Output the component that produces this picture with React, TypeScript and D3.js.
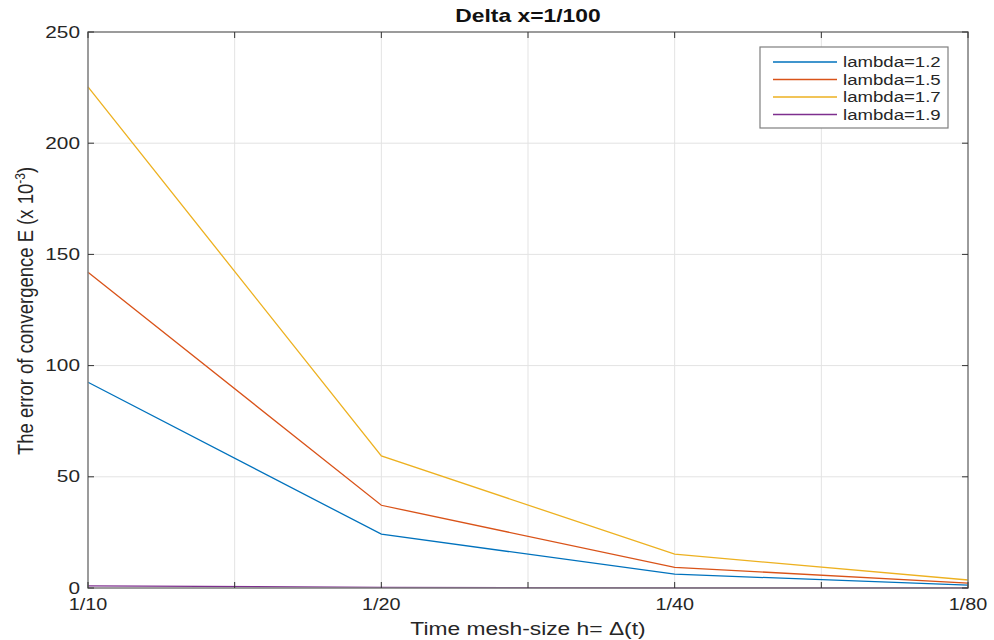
import React from "react";
import * as d3 from "d3";

const steps = [1, 2, 3, 4];
const stepLabels = ["1/10", "1/20", "1/40", "1/80"];
const gridSteps = [1, 1.5, 2, 2.5, 3, 3.5, 4];
const yTicks = [0, 50, 100, 150, 200, 250];

const lambda12 = [92.5, 24.2, 6.2, 1.3];
const lambda15 = [142, 37.2, 9.3, 2.2];
const lambda17 = [225.3, 59.4, 15.2, 3.6];
const lambda19 = [1.0, 0.3, 0.1, 0.05];

const series = [
  { name: "lambda=1.2", values: lambda12, color: "#0072BD" },
  { name: "lambda=1.5", values: lambda15, color: "#D95319" },
  { name: "lambda=1.7", values: lambda17, color: "#EDB120" },
  { name: "lambda=1.9", values: lambda19, color: "#7E2F8E" },
];

const W = 994;
const H = 640;
const m = { left: 88, right: 968, top: 32, bottom: 588 };
const font = "'Liberation Sans', Arial, sans-serif";
// the reference picture is stretched sideways, so horizontal text is widened
const SX = 1.2;

type WideProps = {
  x: number;
  y: number;
  sx?: number;
  anchor?: "start" | "middle" | "end";
  size: number;
  weight?: string;
  fill?: string;
  dy?: string;
  children: React.ReactNode;
};

const WideText = ({ x, y, sx = SX, anchor = "start", size, weight, fill = "#262626", dy, children }: WideProps) => (
  <text
    transform={`translate(${x},${y}) scale(${sx},1)`}
    textAnchor={anchor}
    fontSize={size}
    fontWeight={weight}
    fill={fill}
    dy={dy}
  >
    {children}
  </text>
);

export default function App() {
  const x = d3.scaleLinear().domain([1, 4]).range([m.left, m.right]);
  const y = d3.scaleLinear().domain([0, 250]).range([m.bottom, m.top]);
  const line = d3
    .line<number>()
    .x((_, i) => x(steps[i]))
    .y((d) => y(d));

  const axisColor = "#7f7f7f";
  const textColor = "#262626";

  return (
    <svg
      width={W}
      height={H}
      style={{ position: "absolute", left: 0, top: 0, background: "#fff" }}
      fontFamily={font}
    >
      {/* grid */}
      {gridSteps.map((s) => (
        <line
          key={"gx" + s}
          x1={x(s)}
          x2={x(s)}
          y1={m.top}
          y2={m.bottom}
          stroke="#e3e3e3"
          strokeWidth={1}
        />
      ))}
      {yTicks.map((t) => (
        <line
          key={"gy" + t}
          x1={m.left}
          x2={m.right}
          y1={y(t)}
          y2={y(t)}
          stroke="#e3e3e3"
          strokeWidth={1}
        />
      ))}

      {/* series */}
      {series.map((s) => (
        <path
          key={s.name}
          d={line(s.values) || ""}
          fill="none"
          stroke={s.color}
          strokeWidth={1.3}
        />
      ))}

      {/* box */}
      <rect
        x={m.left}
        y={m.top}
        width={m.right - m.left}
        height={m.bottom - m.top}
        fill="none"
        stroke={axisColor}
        strokeWidth={1.5}
      />

      {/* ticks */}
      {gridSteps.map((s) => (
        <g key={"tx" + s}>
          <line x1={x(s)} x2={x(s)} y1={m.bottom} y2={m.bottom - 6} stroke="#333" />
          <line x1={x(s)} x2={x(s)} y1={m.top} y2={m.top + 6} stroke="#333" />
        </g>
      ))}
      {yTicks.map((t) => (
        <g key={"ty" + t}>
          <line x1={m.left} x2={m.left + 6} y1={y(t)} y2={y(t)} stroke="#333" />
          <line x1={m.right} x2={m.right - 6} y1={y(t)} y2={y(t)} stroke="#333" />
          <WideText x={m.left - 8} y={y(t)} dy="0.35em" anchor="end" size={16} sx={1.3} fill={textColor}>
            {t}
          </WideText>
        </g>
      ))}
      {steps.map((s, i) => (
        <WideText key={"lx" + s} x={x(s)} y={m.bottom + 22} anchor="middle" size={16.5} fill={textColor}>
          {stepLabels[i]}
        </WideText>
      ))}

      {/* title & labels */}
      <WideText x={(m.left + m.right) / 2} y={22} anchor="middle" size={18} weight="bold" sx={1.27} fill="#111">
        Delta x=1/100
      </WideText>
      <WideText x={(m.left + m.right) / 2} y={635} anchor="middle" size={19} sx={1.2} fill={textColor}>
        Time mesh-size h= Δ(t)
      </WideText>
      <text
        transform={`translate(33,${(m.top + m.bottom) / 2 + 1}) rotate(-90) scale(1,1.2)`}
        textAnchor="middle"
        fontSize={18.5}
        fill={textColor}
      >
        The error of convergence E (x 10
        <tspan dy={-7} fontSize={12}>
          -3
        </tspan>
        <tspan dy={7}>)</tspan>
      </text>

      {/* legend */}
      <rect x={760} y={47} width={188} height={81} fill="#fff" stroke="#7f7f7f" strokeWidth={1.2} />
      {series.map((s, i) => {
        const ly = 62 + i * 17.5;
        return (
          <g key={"lg" + s.name}>
            <line x1={773} x2={837} y1={ly} y2={ly} stroke={s.color} strokeWidth={1.3} />
            <WideText x={843} y={ly} dy="0.33em" size={15.5} fill={textColor}>
              {s.name}
            </WideText>
          </g>
        );
      })}
    </svg>
  );
}
